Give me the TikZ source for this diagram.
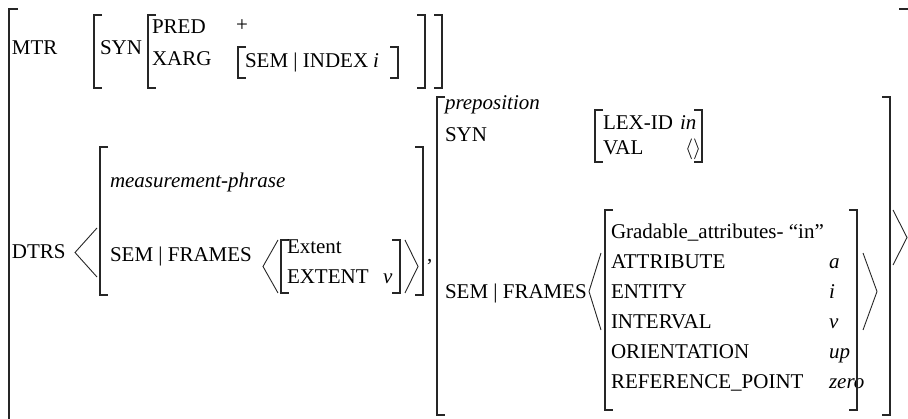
\documentclass[tikz,border=0pt]{standalone}
\usepackage{fontspec}
\setmainfont{Liberation Serif}
\begin{document}
\begin{tikzpicture}[x=1pt,y=-1pt,
  brk/.style={line width=1.1pt,black!85,line cap=butt,line join=miter},
  ang/.style={line width=0.9pt,black!85,line join=miter},
  lbl/.style={anchor=base west,inner sep=0pt,outer sep=0pt,font=\fontsize{21}{24}\selectfont},
  val/.style={lbl,font=\fontsize{21}{24}\selectfont\itshape}]
\useasboundingbox (0,0) rectangle (908,419);

% left / right square brackets: x, top, bottom
\newcommand\LBr[3]{\draw[brk] (#1+8,#2) -- (#1,#2) -- (#1,#3) -- (#1+8,#3);}
\newcommand\RBr[3]{\draw[brk] (#1-8,#2) -- (#1,#2) -- (#1,#3) -- (#1-8,#3);}
% angle brackets: open x, tip x, top, bottom
\newcommand\Ang[4]{\draw[ang] (#1,#3) -- (#2,{(#3+#4)/2}) -- (#1,#4);}

% outermost matrix
\draw[brk] (18,9) -- (9,9) -- (9,419);
\draw[brk] (899,9) -- (908,9);

% MTR part
\node[lbl] (mtr) at (12,55) {MTR};
\LBr{94}{15}{88}
\node[lbl] (syn1) at (100,55) {SYN};
\LBr{148}{15}{88}
\node[lbl] (pred) at (152,34) {PRED};
\node[lbl] (plus) at (236,32) {+};
\node[lbl] (xarg) at (152,66) {XARG};
\LBr{238}{47}{78}
\node[lbl] (semidx) at (245,68) {SEM | INDEX};
\node[val] (idx) at (373,68) {i};
\RBr{398}{47}{78}
\RBr{425}{15}{88}
\RBr{442}{15}{88}

% DTRS list
\node[lbl] (dtrs) at (12,259) {DTRS};
\Ang{97}{75}{228}{277}

% first daughter
\LBr{100}{147}{295}
\node[val] (mp) at (110,188) {measurement-phrase};
\node[lbl] (semfr1) at (110,262) {SEM | FRAMES};
\Ang{278}{263}{240}{293}
\LBr{281}{240}{293}
\node[lbl] (ext) at (287,254) {Extent};
\node[lbl] (extf) at (287,284) {EXTENT};
\node[val] (extv) at (383,284) {v};
\RBr{400}{240}{293}
\Ang{405}{418}{240}{293}
\RBr{423}{147}{295}
\node[lbl] (comma) at (427,262) {,};

% second daughter
\LBr{437}{97}{415}
\node[val] (prep) at (445,110) {preposition};
\node[lbl] (syn2) at (445,142) {SYN};
\LBr{595}{110}{162}
\node[lbl] (lexid) at (603,130) {LEX-ID};
\node[val] (lexin) at (680,130) {in};
\node[lbl] (valf) at (603,155) {VAL};
\node[lbl] (valv) at (685,155) {$\langle\rangle$};
\RBr{702}{110}{162}

\node[lbl] (semfr2) at (445,299) {SEM | FRAMES};
\Ang{601}{589}{253}{330}
\LBr{605}{210}{410}
\node[lbl] (gr) at (611,239) {Gradable\_attributes- “in”};
\node[lbl] (attr) at (611,269) {ATTRIBUTE};
\node[val] (attrv) at (829,269) {a};
\node[lbl] (ent) at (611,299) {ENTITY};
\node[val] (entv) at (829,299) {i};
\node[lbl] (intv) at (611,329) {INTERVAL};
\node[val] (intvv) at (829,329) {v};
\node[lbl] (ori) at (611,359) {ORIENTATION};
\node[val] (oriv) at (829,359) {up};
\node[lbl] (ref) at (611,389) {REFERENCE\_POINT};
\node[val] (refv) at (829,389) {zero};
\RBr{857}{210}{410}
\Ang{863}{877}{253}{330}
\RBr{890}{97}{415}

% closing the DTRS list
\Ang{893}{907}{210}{265}
\end{tikzpicture}
\end{document}
